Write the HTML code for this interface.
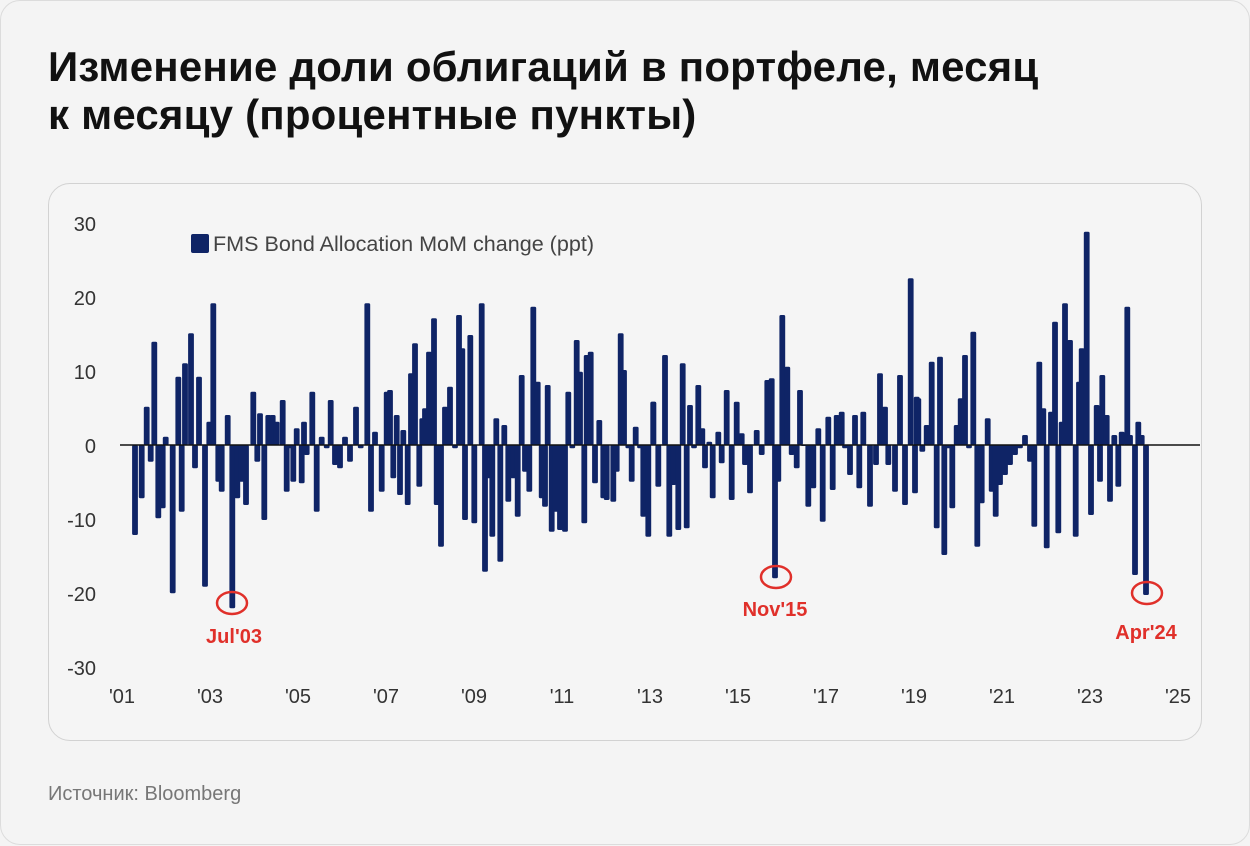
<!DOCTYPE html>
<html><head><meta charset="utf-8"><style>
html,body{margin:0;padding:0;background:#f4f4f4;}
body{width:1250px;height:846px;position:relative;overflow:hidden;font-family:"Liberation Sans",sans-serif;}
.card{position:absolute;left:0;top:0;width:1248px;height:843px;border:1px solid #dcdcdc;border-radius:20px;background:#f4f4f4;}
.title{position:absolute;left:48px;top:43px;font-size:42px;font-weight:bold;line-height:48px;color:#111;letter-spacing:0.2px;}
.src{position:absolute;left:48px;top:783px;font-size:20px;color:#777;}
.box{position:absolute;left:48px;top:183px;width:1152px;height:556px;border:1px solid #d2d2d2;border-radius:22px;background:#f5f5f5;}
svg{position:absolute;left:0;top:0;}
</style></head><body>
<div class="card"></div>
<div class="title">Изменение доли облигаций в портфеле, месяц<br>к месяцу (процентные пункты)</div>
<div class="box"></div>
<div class="src">Источник: Bloomberg</div>
<svg id="s" width="1250" height="846" xmlns="http://www.w3.org/2000/svg" font-family="Liberation Sans, sans-serif">
<g font-size="20" fill="#333" text-anchor="end">
<text x="96" y="231">30</text><text x="96" y="305">20</text><text x="96" y="379">10</text>
<text x="96" y="453">0</text><text x="96" y="527">-10</text><text x="96" y="601">-20</text><text x="96" y="675">-30</text>
</g>
<g font-size="20" fill="#333" text-anchor="middle" id="xl"></g>
<rect x="191" y="234" width="18" height="19" rx="2" fill="#0f2466"/>
<text x="213" y="251" font-size="21" fill="#444" textLength="381" lengthAdjust="spacingAndGlyphs">FMS Bond Allocation MoM change (ppt)</text>
<g id="bars"></g>
<line x1="120" y1="445" x2="1200" y2="445" stroke="#111" stroke-width="1.5"/>
<g fill="none" stroke="#e0302a" stroke-width="2.5">
<ellipse cx="232" cy="603" rx="15" ry="11"/><ellipse cx="776" cy="577" rx="15" ry="11"/><ellipse cx="1147" cy="593" rx="15" ry="11"/>
</g>
<g font-size="20" font-weight="bold" fill="#e0302a" text-anchor="middle">
<text x="234" y="643">Jul'03</text><text x="775" y="616">Nov'15</text><text x="1146" y="639">Apr'24</text>
</g>
</svg>
<script>
var segs=[[120,[45,960,65,850,80,575,92,740,103,380,115,910,128,880,137,665,158,1135,175,485,185,890,195,445,213,355,225,760,237,485,255,1115,268,620,280,265,295,800,305,830,323,600,337,1180,352,850,365,800,378,870,400,530,412,740,420,595,433,915,445,600,458,600,470,620,488,555,500,830,512,700,520,800,530,640,545,805,552,620,560,720,577,530,590,890,605,665,620,700,632,555,645,750,660,760,675,665,690,740,708,575,722,700,742,265,753,890,765,650,785,830,800,530]],
[385,[15,525,25,790,35,600,45,840,55,645,68,870,78,475,90,385,103,815,112,610,120,580,132,410,147,310,155,870,168,995,180,575,195,515,210,700,222,300,232,400,240,915,256,360,268,925,290,265,300,1070,312,790,322,965,334,610,346,1040,358,630,370,860,385,790,398,905,410,480,420,770,433,830,445,275,458,500,470,850,480,875,488,510,500,950,512,890,525,945,540,950,550,530,562,700,575,375,585,470,598,925,605,420,617,410,630,805,643,615,655,850,665,855,685,860,695,770,707,355,717,465,730,700,740,800,752,635,765,700,775,905,790,965,805,560]],
[650,[10,560,25,815,45,420,58,965,70,810,85,945,98,445,110,940,120,570,132,700,145,510,157,640,165,760,178,680,188,850,205,650,215,745,230,525,245,855,260,560,275,655,285,750,300,835,320,645,335,720,352,495,365,490,375,1090,385,800,397,300,412,455,425,720,440,760,450,525,462,690,475,875,490,820,505,640,518,920,535,605,548,825,560,600,575,590,585,700,600,780,615,600,628,820,640,590,660,875,678,750,690,475,705,575,715,750,735,830,750,480,765,870,782,190,800,545]],
[915,[0,835,10,550,22,710,35,630,50,440,65,940,75,425,88,1020,100,700,112,880,125,630,137,550,150,420,162,700,175,350,187,995,200,865,218,610,230,830,242,905,255,810,270,780,285,750,300,720,315,700,330,660,345,740,358,935,373,440,385,580,395,1000,408,590,420,320,430,955,440,620,450,265,465,375,482,965,492,500,500,400,515,50,528,900,545,570,555,800,562,480,575,600,585,860,598,660,610,815,620,650,637,275,645,660,660,1080,670,620,680,660,693,1140]]];
var h='';
segs.forEach(function(s){var o=s[0],a=s[1];for(var i=0;i<a.length;i+=2){var x=o+a[i]/3,y=215+a[i+1]/3;var t=Math.min(y,445),hh=Math.abs(y-445);if(hh<1)hh=1;h+='<rect x="'+(x-2.9).toFixed(1)+'" y="'+t.toFixed(1)+'" width="5.8" height="'+hh.toFixed(1)+'" rx="1.5" fill="#0f2466"/>';}});
document.getElementById('bars').innerHTML=h;
var xl='',yrs=["'01","'03","'05","'07","'09","'11","'13","'15","'17","'19","'21","'23","'25"];
yrs.forEach(function(t,i){xl+='<text x="'+(122+i*88)+'" y="703">'+t+'</text>';});
document.getElementById('xl').innerHTML=xl;
</script>
</body></html>
